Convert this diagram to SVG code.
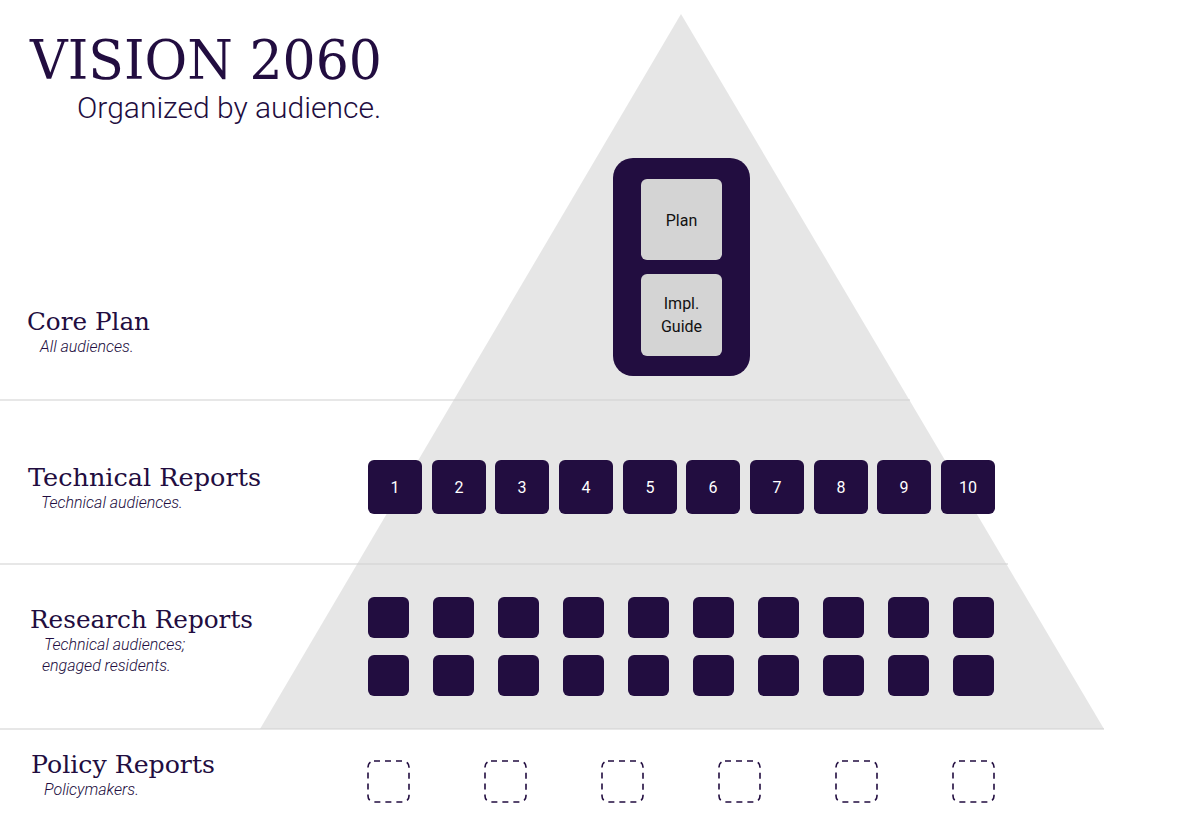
<svg xmlns="http://www.w3.org/2000/svg" width="1200" height="816" viewBox="0 0 1200 816">
<style>
.t{font-family:"DejaVu Serif",serif;fill:#220d40}
.s{font-family:Roboto,sans-serif;font-style:italic;font-weight:300;fill:#220d40;font-size:16px}
.sep{stroke:#cfcfcf;stroke-width:1.2}
.dk{fill:#220d40}
.num{font-family:Roboto,sans-serif;fill:#fff;font-size:16px;text-anchor:middle}
.lt{font-family:Roboto,sans-serif;fill:#111;font-size:16px;text-anchor:middle}
.dash{fill:none;stroke:#220d40;stroke-width:1.6;stroke-dasharray:6 5}
</style>
<rect width="1200" height="816" fill="#fff"/>
<polygon points="681,14 260,729 1104,729" fill="#e6e6e6"/>
<g id="connectors">
<line class="sep" x1="0" y1="400" x2="910" y2="400"/>
<line class="sep" x1="0" y1="564" x2="1008" y2="564"/>
<line class="sep" x1="0" y1="729" x2="1104" y2="729"/>
</g>
<text class="t" x="30" y="79" font-size="54" textLength="352" lengthAdjust="spacingAndGlyphs">VISION 2060</text>
<text x="77" y="118" font-family="Roboto,sans-serif" font-weight="300" font-size="30" fill="#220d40">Organized by audience.</text>
<g id="core-plan-label"><text class="t" x="27" y="330" font-size="25" textLength="123" lengthAdjust="spacingAndGlyphs">Core Plan</text><text class="s" x="40" y="352">All audiences.</text></g>
<g id="technical-label"><text class="t" x="28" y="486" font-size="25" textLength="233" lengthAdjust="spacingAndGlyphs">Technical Reports</text><text class="s" x="41" y="508">Technical audiences.</text></g>
<g id="research-label"><text class="t" x="30" y="628" font-size="25" textLength="223" lengthAdjust="spacingAndGlyphs">Research Reports</text><text class="s" x="44" y="650">Technical audiences;</text><text class="s" x="42" y="671">engaged residents.</text></g>
<g id="policy-label"><text class="t" x="31" y="773" font-size="25" textLength="184" lengthAdjust="spacingAndGlyphs">Policy Reports</text><text class="s" x="44" y="795">Policymakers.</text></g>
<g id="core-plan">
<rect x="613" y="158" width="137" height="218" rx="20" class="dk"/>
<rect x="641" y="179" width="81" height="81" rx="6" fill="#d4d4d4"/>
<text class="lt" x="681.5" y="226">Plan</text>
<rect x="641" y="274" width="81" height="82" rx="6" fill="#d4d4d4"/>
<text class="lt" x="681.5" y="309">Impl.</text><text class="lt" x="681.5" y="332">Guide</text>
</g>
<g id="technical-reports">
<rect x="368" y="460" width="54" height="54" rx="6" class="dk"/><text class="num" x="395" y="493">1</text>
<rect x="432" y="460" width="54" height="54" rx="6" class="dk"/><text class="num" x="459" y="493">2</text>
<rect x="495" y="460" width="54" height="54" rx="6" class="dk"/><text class="num" x="522" y="493">3</text>
<rect x="559" y="460" width="54" height="54" rx="6" class="dk"/><text class="num" x="586" y="493">4</text>
<rect x="623" y="460" width="54" height="54" rx="6" class="dk"/><text class="num" x="650" y="493">5</text>
<rect x="686" y="460" width="54" height="54" rx="6" class="dk"/><text class="num" x="713" y="493">6</text>
<rect x="750" y="460" width="54" height="54" rx="6" class="dk"/><text class="num" x="777" y="493">7</text>
<rect x="814" y="460" width="54" height="54" rx="6" class="dk"/><text class="num" x="841" y="493">8</text>
<rect x="877" y="460" width="54" height="54" rx="6" class="dk"/><text class="num" x="904" y="493">9</text>
<rect x="941" y="460" width="54" height="54" rx="6" class="dk"/><text class="num" x="968" y="493">10</text>
</g>
<g id="research-reports" class="dk">
<rect x="368" y="597" width="41" height="41" rx="6"/><rect x="433" y="597" width="41" height="41" rx="6"/><rect x="498" y="597" width="41" height="41" rx="6"/><rect x="563" y="597" width="41" height="41" rx="6"/><rect x="628" y="597" width="41" height="41" rx="6"/><rect x="693" y="597" width="41" height="41" rx="6"/><rect x="758" y="597" width="41" height="41" rx="6"/><rect x="823" y="597" width="41" height="41" rx="6"/><rect x="888" y="597" width="41" height="41" rx="6"/><rect x="953" y="597" width="41" height="41" rx="6"/>
<rect x="368" y="655" width="41" height="41" rx="6"/><rect x="433" y="655" width="41" height="41" rx="6"/><rect x="498" y="655" width="41" height="41" rx="6"/><rect x="563" y="655" width="41" height="41" rx="6"/><rect x="628" y="655" width="41" height="41" rx="6"/><rect x="693" y="655" width="41" height="41" rx="6"/><rect x="758" y="655" width="41" height="41" rx="6"/><rect x="823" y="655" width="41" height="41" rx="6"/><rect x="888" y="655" width="41" height="41" rx="6"/><rect x="953" y="655" width="41" height="41" rx="6"/>
</g>
<g id="policy-reports">
<rect class="dash" x="368" y="761" width="41" height="41" rx="6"/><rect class="dash" x="485" y="761" width="41" height="41" rx="6"/><rect class="dash" x="602" y="761" width="41" height="41" rx="6"/><rect class="dash" x="719" y="761" width="41" height="41" rx="6"/><rect class="dash" x="836" y="761" width="41" height="41" rx="6"/><rect class="dash" x="953" y="761" width="41" height="41" rx="6"/>
</g>
</svg>
